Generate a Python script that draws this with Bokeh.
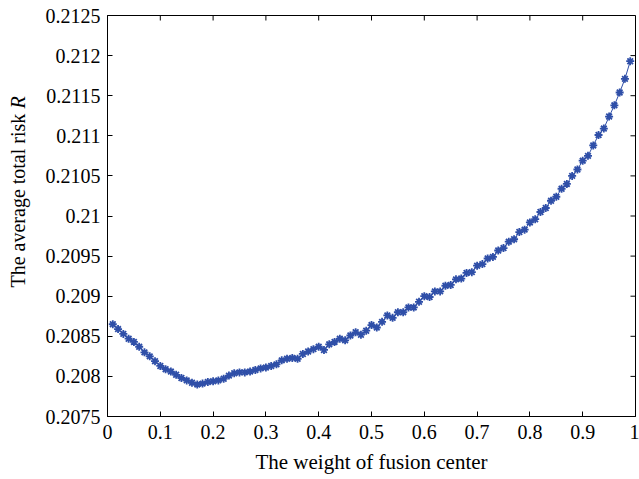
import math
from bokeh.plotting import figure
from bokeh.layouts import row
from bokeh.models import (FixedTicker, LinearAxis, Label, Range1d,
                          CustomJSTickFormatter, ColumnDataSource)
from bokeh.embed import file_html
from bokeh.resources import INLINE

# ---------------- data ----------------
weight = [0.01, 0.02, 0.03, 0.04, 0.05, 0.06, 0.07, 0.08, 0.09, 0.10,
          0.11, 0.12, 0.13, 0.14, 0.15, 0.16, 0.17, 0.18, 0.19, 0.20,
          0.21, 0.22, 0.23, 0.24, 0.25, 0.26, 0.27, 0.28, 0.29, 0.30,
          0.31, 0.32, 0.33, 0.34, 0.35, 0.36, 0.37, 0.38, 0.39, 0.40,
          0.41, 0.42, 0.43, 0.44, 0.45, 0.46, 0.47, 0.48, 0.49, 0.50,
          0.51, 0.52, 0.53, 0.54, 0.55, 0.56, 0.57, 0.58, 0.59, 0.60,
          0.61, 0.62, 0.63, 0.64, 0.65, 0.66, 0.67, 0.68, 0.69, 0.70,
          0.71, 0.72, 0.73, 0.74, 0.75, 0.76, 0.77, 0.78, 0.79, 0.80,
          0.81, 0.82, 0.83, 0.84, 0.85, 0.86, 0.87, 0.88, 0.89, 0.90,
          0.91, 0.92, 0.93, 0.94, 0.95, 0.96, 0.97, 0.98, 0.99]

risk = [0.20865, 0.20859, 0.20853, 0.20847, 0.20843, 0.20837, 0.20830, 0.20825, 0.20819, 0.20813,
        0.20809, 0.20806, 0.20802, 0.20798, 0.20795, 0.20792, 0.20790, 0.20791, 0.20793, 0.20794,
        0.20795, 0.20797, 0.20801, 0.20804, 0.20805, 0.20805, 0.20806, 0.20808, 0.20810, 0.20811,
        0.20813, 0.20815, 0.20820, 0.20822, 0.20823, 0.20822, 0.20828, 0.20831, 0.20834, 0.20837,
        0.20833, 0.20840, 0.20843, 0.20847, 0.20845, 0.20851, 0.20855, 0.20852, 0.20857, 0.20864,
        0.20861, 0.20868, 0.20876, 0.20873, 0.20880, 0.20880, 0.20886, 0.20886, 0.20893, 0.20900,
        0.20899, 0.20906, 0.20906, 0.20913, 0.20914, 0.20921, 0.20922, 0.20929, 0.20930, 0.20938,
        0.20940, 0.20947, 0.20949, 0.20957, 0.20960, 0.20968, 0.20971, 0.20980, 0.20983, 0.20992,
        0.20996, 0.21005, 0.21010, 0.21019, 0.21024, 0.21034, 0.21040, 0.21050, 0.21058, 0.21069,
        0.21075, 0.21088, 0.21101, 0.21109, 0.21124, 0.21138, 0.21154, 0.21171, 0.21193]

x_ticks = [0.0, 0.1, 0.2, 0.3, 0.4, 0.5, 0.6, 0.7, 0.8, 0.9, 1.0]
x_tick_labels = ["0", "0.1", "0.2", "0.3", "0.4", "0.5", "0.6", "0.7", "0.8", "0.9", "1"]
y_ticks = [0.2075, 0.208, 0.2085, 0.209, 0.2095, 0.21, 0.2105, 0.211, 0.2115, 0.212, 0.2125]
y_tick_labels = ["0.2075", "0.208", "0.2085", "0.209", "0.2095", "0.21", "0.2105",
                 "0.211", "0.2115", "0.212", "0.2125"]

x_title = "The weight of fusion center"
y_title = "The average total risk"
y_title_symbol = "R"

# ---------------- style / layout ----------------
FONT = "Liberation Serif"
BLUE = "#2f4fa8"
TOTAL_W, TOTAL_H = 639, 479
STRIP_W = 34                      # narrow strip that holds the y title
MAIN_W = TOTAL_W - STRIP_W
B_LEFT, B_RIGHT, B_TOP, B_BOTTOM = 107 - STRIP_W, 4, 15, 63
FRAME_W = MAIN_W - B_LEFT - B_RIGHT
FRAME_H = TOTAL_H - B_TOP - B_BOTTOM
TICK_PX = 5
X0, X1 = 0.0, 1.0
Y0, Y1 = 0.2075, 0.2125

p = figure(width=MAIN_W, height=TOTAL_H, output_backend="svg", toolbar_location=None,
           x_range=Range1d(X0, X1), y_range=Range1d(Y0, Y1),
           x_axis_location=None, y_axis_location=None)
p.min_border_left = B_LEFT
p.min_border_right = B_RIGHT
p.min_border_top = B_TOP
p.min_border_bottom = B_BOTTOM
p.background_fill_color = "white"
p.border_fill_color = "white"
p.outline_line_color = "black"
p.outline_line_width = 1
p.xgrid.visible = False
p.ygrid.visible = False


def fmt(ticks, labels):
    return CustomJSTickFormatter(args=dict(t=ticks, l=labels), code="""
        let best = 0;
        for (let i = 0; i < t.length; i++) {
            if (Math.abs(t[i] - tick) < Math.abs(t[best] - tick)) best = i;
        }
        return l[best];
    """)


def make_axis(ticks, labels, standoff):
    ax = LinearAxis(ticker=FixedTicker(ticks=ticks, minor_ticks=[]))
    ax.formatter = fmt(ticks, labels)
    ax.axis_line_color = "black"
    ax.axis_line_width = 1
    ax.major_tick_in = TICK_PX
    ax.major_tick_out = 0
    ax.major_tick_line_color = "black"
    ax.minor_tick_line_color = None
    ax.major_label_text_font = FONT
    ax.major_label_text_color = "black"
    ax.major_label_text_font_size = "20px"
    ax.major_label_standoff = standoff
    return ax


xaxis = make_axis(x_ticks, x_tick_labels, 8)
xaxis.axis_label = x_title
xaxis.axis_label_text_font = FONT
xaxis.axis_label_text_font_size = "21px"
xaxis.axis_label_text_font_style = "normal"
xaxis.axis_label_text_color = "black"
xaxis.axis_label_standoff = 8
p.add_layout(xaxis, "below")
p.add_layout(make_axis(y_ticks, y_tick_labels, 7), "left")

# inward ticks on the top and right edges of the box
dy = (Y1 - Y0) * TICK_PX / FRAME_H
dx = (X1 - X0) * TICK_PX / FRAME_W
p.segment(x0=x_ticks, x1=x_ticks, y0=[Y1] * len(x_ticks), y1=[Y1 - dy] * len(x_ticks),
          line_color="black", line_width=1)
p.segment(x0=[X1] * len(y_ticks), x1=[X1 - dx] * len(y_ticks), y0=y_ticks, y1=y_ticks,
          line_color="black", line_width=1)

src = ColumnDataSource(dict(x=weight, y=risk))
p.line("x", "y", source=src, line_color=BLUE, line_width=1)
p.scatter("x", "y", source=src, marker="asterisk", size=8,
          line_color=BLUE, line_width=1.8)

# ---------------- y title strip ----------------
s = figure(width=STRIP_W, height=TOTAL_H, output_backend="svg", toolbar_location=None,
           x_range=Range1d(0, 1), y_range=Range1d(0, 1),
           x_axis_location=None, y_axis_location=None)
s.min_border_left = s.min_border_right = s.min_border_top = s.min_border_bottom = 0
s.outline_line_color = None
s.xgrid.visible = False
s.ygrid.visible = False
s.background_fill_color = "white"
s.border_fill_color = "white"

title_start = 129   # px above the frame bottom
s.add_layout(Label(x=17, y=title_start, x_units="screen", y_units="screen",
                   text=y_title, angle=math.pi / 2, text_font=FONT,
                   text_font_size="20px", text_align="left",
                   text_baseline="alphabetic", text_color="black"))
s.add_layout(Label(x=17, y=title_start + 179, x_units="screen", y_units="screen",
                   text=y_title_symbol, angle=math.pi / 2, text_font=FONT,
                   text_font_size="20px", text_font_style="italic",
                   text_align="left", text_baseline="alphabetic",
                   text_color="black"))

layout = row(s, p)
open("out.html", "w").write(file_html(layout, INLINE))
